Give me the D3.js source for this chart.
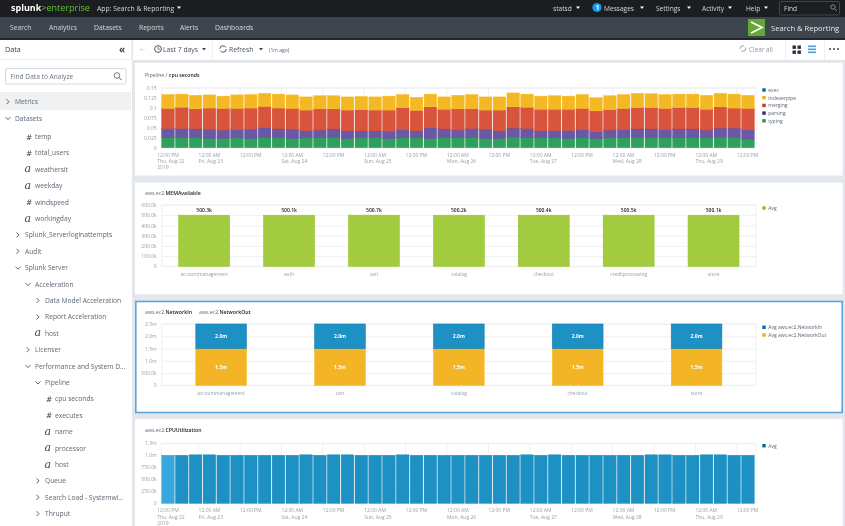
<!DOCTYPE html>
<html>
<head>
<meta charset="utf-8">
<script src="https://cdn.jsdelivr.net/npm/d3@7"></script>
<style>
  html, body { margin: 0; padding: 0; background: #e3e7ec; overflow: hidden; }
  svg { display: block; filter: blur(0.5px); font-family: "Open Sans", sans-serif; }
  .domain { display: none; }
  .tick text { fill: #9aa0a6; font-family: "Open Sans", sans-serif; }
</style>
</head>
<body>
<svg width="845" height="526"></svg>
<script>
// cpu seconds, one value per 4h bucket
let indexerValues = [.035,.033,.034,.033,.031,.034,.034,.033,.035,.034,.033,.033,.033,.033,.033,.033,.035,.033,.033,.032,.031,.034,.036,.033,.033,.035,.033,.033,.034,.033,.035,.033,.035,.035,.036,.035,.035,.034,.034,.035,.034,.035,.033];
let mergingValues = [.050,.053,.050,.053,.054,.053,.053,.053,.052,.052,.052,.053,.050,.052,.053,.052,.053,.055,.051,.052,.049,.053,.049,.048,.052,.053,.053,.054,.053,.053,.053,.052,.051,.053,.053,.053,.053,.053,.053,.052,.053,.050,.053];
let parsingValues = [.023,.023,.022,.023,.021,.020,.023,.025,.022,.023,.017,.019,.022,.019,.017,.017,.018,.020,.017,.027,.022,.019,.023,.023,.019,.022,.023,.017,.018,.020,.020,.017,.019,.020,.022,.022,.020,.022,.022,.019,.022,.023,.023];
let typingValues = [.025,.025,.025,.023,.023,.025,.023,.025,.025,.023,.025,.025,.025,.023,.025,.025,.023,.025,.025,.023,.025,.025,.025,.023,.023,.027,.025,.025,.025,.023,.025,.023,.025,.025,.025,.025,.025,.025,.025,.025,.027,.026,.022];
let cpuTicks = [0,.025,.05,.075,.1,.125,.15];
let cpuTickLabels = ['0','0.025','0.05','0.075','0.1','0.125','0.15'];
let cpuLegend = ['exec','indexerpipe','merging','parsing','typing'];

let timeLabels = ['12:00 PM','12:00 AM','12:00 PM','12:00 AM','12:00 PM','12:00 AM','12:00 PM','12:00 AM','12:00 PM','12:00 AM','12:00 PM','12:00 AM','12:00 PM','12:00 AM','12:00 PM'];
let dateLabels = ['Thu, Aug 22','Fri, Aug 23','','Sat, Aug 24','','Sun, Aug 25','','Mon, Aug 26','','Tue, Aug 27','','Wed, Aug 28','','Thu, Aug 29',''];

let memServices = ['accountmanagement','auth','cart','catalog','checkout','creditprocessing','store'];
let memValues = [500300,500100,500700,500200,500400,500500,500100];
let memTicks = [0,100000,200000,300000,400000,500000,600000];

let netServices = ['accountmanagement','cart','catalog','checkout','store'];
let netOutValues = [1500000,1500000,1500000,1500000,1500000];
let netInValues = [1000000,1000000,1000000,1000000,1000000];
let netOutLabels = ['1.5m','1.5m','1.5m','1.5m','1.5m'];
let netInLabels = ['2.0m','2.0m','2.0m','2.0m','2.0m'];
let netTicks = [0,500000,1000000,1500000,2000000,2500000];
let netLegend = ['Avg aws.ec2.NetworkIn','Avg aws.ec2.NetworkOut'];

let cpuUtilValues = [1000000,1000000,1010000,1010000,1000000,1000000,1000000,1000000,1000000,1000000,1010000,1000000,1010000,1010000,1000000,1000000,1000000,1010000,1000000,1000000,1000000,1000000,1000000,1000000,1000000,1000000,1010000,1000000,1010000,1000000,1000000,1000000,1000000,1000000,1000000,1010000,1010000,1000000,1000000,1010000,1010000,1000000,1000000];
let cpuUtilTicks = [0,250000,500000,750000,1000000,1250000];

let navLeft = ['Search','Analytics','Datasets','Reports','Alerts','Dashboards'];
let topRight = ['statsd','Messages','Settings','Activity','Help'];
let treeLabels = ['Metrics','Datasets','temp','total_users','weathersit','weekday','windspeed','workingday','Splunk_Serverloginattempts','Audit','Splunk Server','Acceleration','Data Model Acceleration','Report Acceleration','host','Licenser','Performance and System D...','Pipeline','cpu seconds','executes','name','processor','host','Queue','Search Load - Systemwi...','Thruput'];
let treeDepths = [0,0,2,2,2,2,2,2,1,1,1,2,3,3,3,2,2,3,4,4,4,4,4,3,3,3];
let treeKinds = ['closed','open','#','#','a','a','#','a','closed','closed','open','open','closed','closed','a','closed','open','open','#','#','a','a','a','closed','closed','closed'];

let svg = d3.select('svg');

let label = (parent, x, y, str, size, fill, weight) => {
    return parent.append('text')
        .attr('x', x).attr('y', y)
        .attr('font-size', size)
        .attr('fill', fill)
        .attr('font-weight', weight || 400)
        .text(str);
}

let caret = (parent, x, y, fill) => {
    parent.append('path')
        .attr('d', `M${x-2} ${y-1}L${x+2} ${y-1}L${x} ${y+1.5}Z`)
        .attr('fill', fill || '#fff');
}

let fmtValue = v => {
    if (v == 0) return '0';
    if (v >= 1000000) return (v / 1000000).toFixed(1) + 'm';
    return (v / 1000).toFixed(1) + 'k';
}

let drawChrome = () => {
    svg.append('rect').attr('width', 845).attr('height', 526).attr('fill', '#e3e7ec');
    svg.append('rect').attr('width', 845).attr('height', 17).attr('fill', '#1b1d21');
    svg.append('rect').attr('y', 17).attr('width', 845).attr('height', 21).attr('fill', '#3d454e');
    svg.append('rect').attr('y', 38).attr('width', 845).attr('height', 2).attr('fill', '#22262b');
    svg.append('rect').attr('y', 40).attr('width', 845).attr('height', 20).attr('fill', '#fff');
    svg.append('rect').attr('y', 40).attr('width', 132).attr('height', 486).attr('fill', '#fff');
    svg.append('rect').attr('x', 132).attr('y', 40).attr('width', 1).attr('height', 486).attr('fill', '#e3e7ec');
    svg.append('rect').attr('y', 59).attr('width', 132).attr('height', 1).attr('fill', '#eceef1');

    // top bar
    let logo = label(svg, 11, 11, 'splunk', 9, '#fff', 700);
    logo.append('tspan').attr('fill', '#65c13b').attr('font-weight', 400).text('>enterprise');
    label(svg, 97, 10.5, 'App: Search & Reporting', 6.8, '#d5d8db');
    caret(svg, 179, 7.5);
    let topX = [553, 604, 656, 702, 746];
    topRight.forEach((t, i) => {
        label(svg, topX[i], 10.5, t, 6.6, '#d5d8db');
        caret(svg, [578, 642, 689, 730, 766][i], 7.5);
    });
    svg.append('circle').attr('cx', 597).attr('cy', 7.5).attr('r', 4.6).attr('fill', '#0f9bf0');
    label(svg, 595.8, 10, '1', 6.4, '#fff', 700);
    svg.append('rect').attr('x', 779.5).attr('y', 1.5).attr('width', 60).attr('height', 13.5).attr('rx', 1.5)
        .attr('fill', '#1b1d21').attr('stroke', '#41464c');
    label(svg, 784, 10.5, 'Find', 6.6, '#d5d8db');
    svg.append('circle').attr('cx', 833).attr('cy', 7).attr('r', 2.2).attr('fill', 'none').attr('stroke', '#888');
    svg.append('path').attr('d', 'M834.6 8.6L836.8 10.8').attr('stroke', '#888');

    // nav bar
    let navX = [10, 49, 94, 139, 180, 215];
    navLeft.forEach((t, i) => label(svg, navX[i], 30, t, 6.8, '#d5d8db'));
    svg.append('rect').attr('x', 748).attr('y', 19).attr('width', 17).attr('height', 17).attr('fill', '#65a637');
    svg.append('path').attr('d', 'M751 22L762 27.5L751 33').attr('fill', 'none').attr('stroke', '#fff').attr('stroke-width', 1.8);
    label(svg, 771, 30.5, 'Search & Reporting', 7.6, '#e6e8ea');

    // toolbar
    label(svg, 5, 52, 'Data', 7.2, '#3c444d');
    label(svg, 119, 52.5, '«', 10, '#3c444d', 700);
    label(svg, 140, 52, '⇠', 6.6, '#c2c7cc');
    svg.append('circle').attr('cx', 158).attr('cy', 49).attr('r', 3.4).attr('fill', 'none').attr('stroke', '#555');
    svg.append('path').attr('d', 'M158 47V49.2H160').attr('fill', 'none').attr('stroke', '#555').attr('stroke-width', .7);
    label(svg, 163, 52, 'Last 7 days', 6.8, '#49525c');
    caret(svg, 204, 49, '#3c444d');
    svg.append('circle').attr('cx', 223).attr('cy', 49).attr('r', 3.2).attr('fill', 'none').attr('stroke', '#555').attr('stroke-dasharray', '8 2');
    label(svg, 229, 52, 'Refresh', 6.8, '#49525c');
    caret(svg, 261, 49, '#3c444d');
    label(svg, 269, 51.5, '(1m ago)', 5, '#5c6773');
    svg.append('circle').attr('cx', 743).attr('cy', 48.5).attr('r', 2.8).attr('fill', 'none').attr('stroke', '#9aa0a6').attr('stroke-dasharray', '6 2');
    label(svg, 749, 51.5, 'Clear all', 6.4, '#8f959b');
    [792.5, 797.5].forEach(x => [45.5, 50.5].forEach(y => {
        svg.append('rect').attr('x', x).attr('y', y).attr('width', 3.4).attr('height', 3.4).attr('fill', '#2c3036');
    }));
    [45.5, 48.5, 51.5].forEach(y => {
        svg.append('rect').attr('x', 808).attr('y', y).attr('width', 8).attr('height', 1.6).attr('fill', '#4f9fd8');
    });
    [830, 834, 838].forEach(x => {
        svg.append('circle').attr('cx', x).attr('cy', 49).attr('r', .9).attr('fill', '#2c3036');
    });
    [131, 212, 785, 824].forEach(x => {
        svg.append('rect').attr('x', x).attr('y', 40).attr('width', 1).attr('height', 20).attr('fill', '#eef0f2');
    });
}

let drawSidebar = () => {
    svg.append('rect').attr('x', 5.5).attr('y', 68.5).attr('width', 120.5).attr('height', 15.5).attr('rx', 1.5)
        .attr('fill', '#fff').attr('stroke', '#d5d9de');
    label(svg, 10.5, 78.5, 'Find Data to Analyze', 6.6, '#6b7580');
    svg.append('circle').attr('cx', 117).attr('cy', 75.5).attr('r', 2.8).attr('fill', 'none').attr('stroke', '#555').attr('stroke-width', .8);
    svg.append('path').attr('d', 'M119 77.5L121.5 80').attr('stroke', '#555');
    svg.append('rect').attr('y', 92).attr('width', 131).attr('height', 18).attr('fill', '#eff1f3');

    let rowY = d3.scaleLinear().domain([2, 25]).range([139, 516.2]);
    let rows = svg.append('g').selectAll('g')
        .data(treeLabels)
        .enter()
        .append('g')
        .attr('transform', (d, i) => `translate(${15 + 10 * treeDepths[i]},${rowY(i) - (i < 2 ? 2 : 0)})`);
    rows.append('text')
        .attr('font-size', 6.7)
        .attr('fill', '#5c6773')
        .text(d => d);
    rows.each(function(d, i) {
        let row = d3.select(this);
        let kind = treeKinds[i];
        if (kind == 'closed') {
            row.append('path').attr('d', 'M-8.5 -5L-6 -2.5L-8.5 0').attr('fill', 'none').attr('stroke', '#49525c').attr('stroke-width', .9);
        } else if (kind == 'open') {
            row.append('path').attr('d', 'M-9.5 -3.5L-7 -1L-4.5 -3.5').attr('fill', 'none').attr('stroke', '#49525c').attr('stroke-width', .9);
        } else if (kind == '#') {
            label(row, -9, 0.5, '#', 7.5, '#3c444d').attr('font-family', 'DejaVu Serif').attr('font-style', 'italic');
        } else {
            label(row, -10.5, 0.5, 'a', 11, '#3c444d').attr('font-family', 'DejaVu Serif').attr('font-style', 'italic');
        }
    });
}

let panelBox = (y, h, selected) => {
    svg.append('rect')
        .attr('x', selected ? 135.8 : 135).attr('y', y)
        .attr('width', selected ? 706.4 : 707.5).attr('height', h)
        .attr('fill', '#fff')
        .attr('stroke', selected ? '#5aa6dc' : 'none')
        .attr('stroke-width', selected ? 1.6 : 0);
}

let title = (x, y, prefix, bold) => {
    let t = label(svg, x, y, prefix, 5.2, '#5c6773');
    t.append('tspan').attr('fill', '#1b1d21').attr('font-weight', 600).text(bold);
}

let legend = (x, y, names, colors) => {
    let g = svg.append('g');
    names.forEach((n, i) => {
        g.append('rect').attr('x', x - 1.7).attr('y', y + i * 7.7 - 1.7).attr('width', 3.4).attr('height', 3.4).attr('fill', colors[i]);
        label(g, x + 4.3, y + i * 7.7 + 1.8, n, 5, '#5c6773');
    });
}

let plotFrame = (yScale) => {
    svg.append('rect')
        .attr('x', plotLeft).attr('y', yScale.range()[1])
        .attr('width', plotRight - plotLeft)
        .attr('height', yScale.range()[0] - yScale.range()[1])
        .attr('fill', 'none').attr('stroke', '#eff0f2');
}

let yAxis = (yScale, ticks, fmt) => {
    let g = svg.append('g')
        .attr('transform', `translate(${plotLeft},0)`)
        .call(d3.axisLeft(yScale)
            .tickValues(ticks)
            .tickFormat(fmt)
            .tickSizeInner(-(plotRight - plotLeft))
            .tickSizeOuter(0)
            .tickPadding(5));
    g.selectAll('.tick line').attr('stroke', '#eff0f2');
    g.selectAll('.tick text').attr('font-size', 5);
}

let timeAxis = (yScale) => {
    let xTime = d3.scalePoint()
        .domain(d3.range(timeLabels.length))
        .range([plotLeft - 5, plotLeft - 5 + 41.4 * 14]);
    let g = svg.append('g')
        .attr('transform', `translate(0,${yScale.range()[0]})`)
        .call(d3.axisBottom(xTime)
            .tickSizeInner(yScale.range()[1] - yScale.range()[0])
            .tickSizeOuter(0)
            .tickPadding(0));
    g.selectAll('.tick line').attr('stroke', '#eff0f2');
    g.selectAll('.tick').filter(d => d == 0).select('line').remove();
    g.selectAll('.tick text')
        .attr('font-size', 5)
        .attr('text-anchor', 'start')
        .attr('y', 9)
        .attr('dy', 0)
        .text(null)
        .each(function(d) {
            let t = d3.select(this);
            t.append('tspan').attr('x', 0).text(timeLabels[d]);
            if (dateLabels[d]) t.append('tspan').attr('x', 0).attr('dy', 6.4).text(dateLabels[d]);
            if (d == 0) t.append('tspan').attr('x', 0).attr('dy', 6.4).text('2019');
        });
}

let categoryAxis = (xScale, yScale) => {
    let g = svg.append('g')
        .attr('transform', `translate(0,${yScale.range()[0]})`)
        .call(d3.axisBottom(xScale).tickSize(0).tickPadding(6));
    g.selectAll('.tick text').attr('font-size', 4.8);
}

let plotLeft = 161.7;
let plotRight = 756;
let bucketScale = d3.scaleBand()
    .domain(d3.range(indexerValues.length))
    .range([plotLeft, plotLeft + 13.78 * indexerValues.length])
    .paddingInner(.09);

let drawCpuSeconds = () => {
    panelBox(63, 112.5);
    title(145, 76.8, 'Pipeline / ', 'cpu seconds');
    let y = d3.scaleLinear().domain([0, .15]).range([147.7, 87.7]);
    plotFrame(y);
    yAxis(y, cpuTicks, (d, i) => cpuTickLabels[i]);
    timeAxis(y);

    let rows = indexerValues.map((d, i) => ({
        typing: typingValues[i], parsing: parsingValues[i], merging: mergingValues[i], indexerpipe: d
    }));
    let keys = ['typing', 'parsing', 'merging', 'indexerpipe'];
    let fills = {typing: '#2f9f5d', parsing: '#6a58a4', merging: '#d8543c', indexerpipe: '#f4b824'};
    let strokes = {typing: '#229a4d', parsing: '#4f3d98', merging: '#cf3f25', indexerpipe: '#f7bb1c'};
    let layers = d3.stack().keys(keys)(rows);
    svg.append('g').selectAll('g')
        .data(layers)
        .enter()
        .append('g')
        .attr('fill', d => fills[d.key])
        .attr('stroke', d => strokes[d.key])
        .attr('stroke-width', .4)
        .selectAll('rect')
        .data(d => d)
        .enter()
        .append('rect')
        .attr('x', (d, i) => bucketScale(i))
        .attr('width', bucketScale.bandwidth())
        .attr('y', d => y(d[1]))
        .attr('height', d => y(d[0]) - y(d[1]));
    legend(764, 90, cpuLegend, ['#006d9c', '#f0ab17', '#c7371f', '#33208a', '#1d9a3e']);
}

let drawMemory = () => {
    panelBox(182.7, 111.5);
    title(145, 194.8, 'aws.ec2.', 'MEMAvailable');
    let y = d3.scaleLinear().domain([0, 600000]).range([266.3, 205]);
    let x = d3.scaleBand().domain(memServices).range([plotLeft, plotRight]).paddingInner(.4).paddingOuter(.2);
    plotFrame(y);
    yAxis(y, memTicks, fmtValue);
    categoryAxis(x, y);
    svg.append('g').selectAll('rect')
        .data(memValues)
        .enter()
        .append('rect')
        .attr('x', (d, i) => x(memServices[i]))
        .attr('width', x.bandwidth())
        .attr('y', d => y(d))
        .attr('height', d => y(0) - y(d))
        .attr('fill', '#a3cb3f')
        .attr('stroke', '#97c62a')
        .attr('stroke-width', .6);
    svg.append('g').selectAll('text')
        .data(memValues)
        .enter()
        .append('text')
        .attr('x', (d, i) => x(memServices[i]) + x.bandwidth() / 2)
        .attr('y', d => y(d) - 3)
        .attr('text-anchor', 'middle')
        .attr('font-size', 5)
        .attr('font-weight', 600)
        .attr('fill', '#1b1d21')
        .text(fmtValue);
    legend(764, 208, ['Avg'], ['#8cbf1f']);
}

let drawNetwork = () => {
    panelBox(301.5, 111, true);
    title(145, 313.8, 'aws.ec2.', 'NetworkIn');
    title(199, 313.8, 'aws.ec2.', 'NetworkOut');
    let y = d3.scaleLinear().domain([0, 2500000]).range([385.3, 324]);
    let x = d3.scaleBand().domain(netServices).range([plotLeft, plotRight]).paddingInner(.574).paddingOuter(.287);
    plotFrame(y);
    yAxis(y, netTicks, fmtValue);
    categoryAxis(x, y);
    let rows = netOutValues.map((d, i) => ({out: d, in: netInValues[i]}));
    let layers = d3.stack().keys(['out', 'in'])(rows);
    let fills = {out: '#f3b526', in: '#1e91c4'};
    let strokes = {out: '#f7bb1c', in: '#0c7fb3'};
    let texts = {out: netOutLabels, in: netInLabels};
    layers.forEach(layer => {
        let g = svg.append('g');
        g.selectAll('rect')
            .data(layer)
            .enter()
            .append('rect')
            .attr('x', (d, i) => x(netServices[i]))
            .attr('width', x.bandwidth())
            .attr('y', d => y(d[1]))
            .attr('height', d => y(d[0]) - y(d[1]))
            .attr('fill', fills[layer.key])
            .attr('stroke', strokes[layer.key])
            .attr('stroke-width', .6);
        g.selectAll('text')
            .data(layer)
            .enter()
            .append('text')
            .attr('x', (d, i) => x(netServices[i]) + x.bandwidth() / 2)
            .attr('y', d => (y(d[0]) + y(d[1])) / 2 + 1.8)
            .attr('text-anchor', 'middle')
            .attr('font-size', 5)
            .attr('font-weight', 700)
            .attr('fill', '#fff')
            .text((d, i) => texts[layer.key][i]);
    });
    legend(764, 327.3, netLegend, ['#006d9c', '#f0ab17']);
}

let drawCpuUtil = () => {
    panelBox(419, 108);
    title(145, 431.8, 'aws.ec2.', 'CPUUtilization');
    let y = d3.scaleLinear().domain([0, 1250000]).range([503.3, 443.3]);
    plotFrame(y);
    yAxis(y, cpuUtilTicks, fmtValue);
    timeAxis(y);
    svg.append('g').selectAll('rect')
        .data(cpuUtilValues)
        .enter()
        .append('rect')
        .attr('x', (d, i) => bucketScale(i))
        .attr('width', bucketScale.bandwidth())
        .attr('y', d => y(d))
        .attr('height', d => y(0) - y(d))
        .attr('fill', (d, i) => i == 0 ? '#38a8dc' : '#1e91c4')
        .attr('stroke', (d, i) => i == 0 ? '#2c9ed2' : '#0c7fb3')
        .attr('stroke-width', .4);
    legend(764, 445.7, ['Avg'], ['#006d9c']);
}

drawChrome();
drawSidebar();
drawCpuSeconds();
drawMemory();
drawNetwork();
drawCpuUtil();
</script>
</body>
</html>
